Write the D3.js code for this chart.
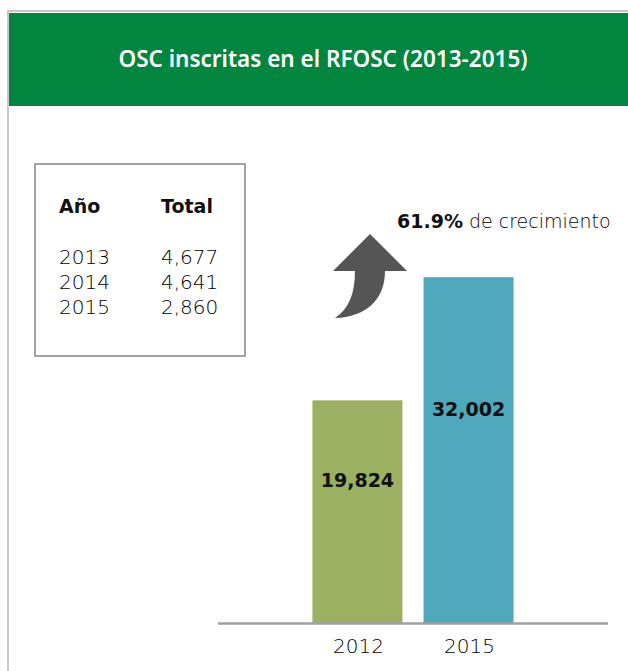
<!DOCTYPE html>
<html>
<head>
<meta charset="utf-8">
<script src="https://cdn.jsdelivr.net/npm/d3@7"></script>
<style>
  body { margin: 0; background: #fff; }
  svg { display: block; }
</style>
</head>
<body>
<script>
// title and data
var title = "OSC inscritas en el RFOSC (2013-2015)";
var tableHead = ["Año", "Total"];
var tableYears = ["2013", "2014", "2015"];
var tableTotals = [4677, 4641, 2860];
var barYears = ["2012", "2015"];
var barValues = [19824, 32002];
var barColors = ["#9bb061", "#4fa8bb"];
var growth = "61.9%";

var W = 628, H = 671;
var fmt = d3.format(",");

var svg = d3.select("body")
    .append("svg")
    .attr("width", W)
    .attr("height", H);

// ---------- frame + header ----------
svg.append("rect")
    .attr("x", 8).attr("y", 11)
    .attr("width", W).attr("height", H)
    .attr("fill", "none")
    .attr("stroke", "#c9c9c9")
    .attr("stroke-width", 2);

svg.append("rect")
    .attr("x", 9).attr("y", 13)
    .attr("width", W - 9).attr("height", 93)
    .attr("fill", "#01853f");

svg.append("text")
    .attr("x", 323)
    .attr("y", 67)
    .attr("text-anchor", "middle")
    .attr("fill", "#fff")
    .style("font-family", "'Noto Sans', sans-serif")
    .style("font-weight", 600)
    .style("font-size", "22.5px")
    .text(title);

// ---------- small table ----------
svg.append("rect")
    .attr("x", 35).attr("y", 164)
    .attr("width", 210).attr("height", 192)
    .attr("fill", "#fff")
    .attr("stroke", "#a3a3a3")
    .attr("stroke-width", 2);

var colX = [59, 161];
svg.selectAll(".thead")
    .data(tableHead)
    .enter()
    .append("text")
    .attr("class", "thead")
    .attr("x", function(d, i) { return colX[i]; })
    .attr("y", 213)
    .style("font-family", "'DejaVu Sans', sans-serif")
    .style("font-weight", "bold")
    .style("font-size", "19px")
    .attr("fill", "#111")
    .text(function(d) { return d; });

var rows = svg.selectAll(".trow")
    .data(tableYears)
    .enter()
    .append("g")
    .attr("class", "trow")
    .attr("transform", function(d, i) { return "translate(0," + (264 + i * 25) + ")"; });

rows.append("text")
    .attr("x", colX[0])
    .text(function(d) { return d; });
rows.append("text")
    .attr("x", colX[1])
    .text(function(d, i) { return fmt(tableTotals[i]); });
rows.selectAll("text")
    .style("font-family", "'DejaVu Sans', sans-serif")
    .style("font-weight", 300)
    .style("font-size", "20px")
    .attr("fill", "#000");

// ---------- bars ----------
var x = d3.scaleBand()
    .domain(barYears)
    .range([218, 608])
    .paddingInner(0.19)
    .paddingOuter(0.85);

var y = d3.scaleLinear()
    .domain([-2200, 34000])
    .range([623, 257]);

svg.selectAll(".bar")
    .data(barValues)
    .enter()
    .append("rect")
    .attr("class", "bar")
    .attr("x", function(d, i) { return x(barYears[i]); })
    .attr("y", function(d) { return y(d); })
    .attr("width", x.bandwidth())
    .attr("height", function(d) { return y(-2200) - y(d); })
    .attr("fill", function(d, i) { return barColors[i]; });

// baseline
svg.append("line")
    .attr("x1", 218).attr("x2", 608)
    .attr("y1", 623.5).attr("y2", 623.5)
    .attr("stroke", "#a0a0a0")
    .attr("stroke-width", 2.5);

// category labels
svg.selectAll(".xlab")
    .data(barYears)
    .enter()
    .append("text")
    .attr("class", "xlab")
    .attr("x", function(d) { return x(d) + x.bandwidth() / 2 + 1; })
    .attr("y", 653)
    .attr("text-anchor", "middle")
    .style("font-family", "'DejaVu Sans', sans-serif")
    .style("font-weight", 300)
    .style("font-size", "20px")
    .attr("fill", "#000")
    .text(function(d) { return d; });

// value labels inside bars
svg.selectAll(".vlab")
    .data(barValues)
    .enter()
    .append("text")
    .attr("class", "vlab")
    .attr("x", function(d, i) { return x(barYears[i]) + x.bandwidth() / 2; })
    .attr("y", function(d) { return y(d * 0.57); })
    .attr("text-anchor", "middle")
    .style("font-family", "'DejaVu Sans', sans-serif")
    .style("font-weight", "bold")
    .style("font-size", "19px")
    .attr("fill", "#111")
    .text(function(d) { return fmt(d); });

// ---------- growth arrow + note ----------
svg.append("path")
    .attr("d", "M370,234 L407,271 L385,271 C385,300 366,317 335,318 C349,309 355,293 355,271 L333,271 Z")
    .attr("fill", "#555");

var note = svg.append("text")
    .attr("x", 397)
    .attr("y", 228)
    .style("font-family", "'DejaVu Sans', sans-serif")
    .style("font-size", "19px")
    .attr("fill", "#000");
note.append("tspan")
    .style("font-weight", "bold")
    .attr("fill", "#111")
    .text(growth);
note.append("tspan")
    .style("font-weight", 300)
    .text(" de crecimiento");
</script>
</body>
</html>
